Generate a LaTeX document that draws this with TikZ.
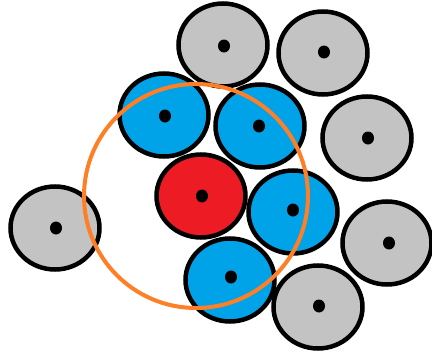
\documentclass[tikz,border=0pt]{standalone}
\usepackage{xcolor}
\usetikzlibrary{shapes.geometric}
\definecolor{ballgray}{HTML}{C3C3C3}
\definecolor{ballblue}{HTML}{00A2E8}
\definecolor{ballred}{HTML}{ED1C24}
\definecolor{ringorange}{HTML}{FF7F27}

\begin{document}
\begin{tikzpicture}[
  x=1pt, y=-1pt,
  ball/.style = {ellipse, draw=black, line width=4.5pt, inner sep=0pt,
                 minimum width=89pt, minimum height=83pt},
  farball/.style = {ball, fill=ballgray},
  nearball/.style = {ball, fill=ballblue},
  homeball/.style = {ball, fill=ballred},
  ring/.style = {draw=ringorange, line width=4pt},
]
\useasboundingbox (0,0) rectangle (432,356);

% ---------- outer particles (gray) ----------
\node[farball] (g1) at (223,45) {};
\node[farball] (g2) at (323,53) {};
\node[farball] (g3) at (367,138) {};
\node[farball] (g4) at (387,243) {};
\node[farball] (g5) at (318,307) {};
\node[farball] (g6) at (55,228) {};

% ---------- neighbours (blue) ----------
\node[nearball] (b1) at (164,115) {};
\node[nearball] (b2) at (260,126) {};
\node[nearball] (b3) at (293,212) {};
\node[nearball] (b4) at (230,280) {};

% ---------- central particle (red) ----------
\node[homeball] (c) at (201,196) {};

% ---------- centre dots ----------
\foreach \n/\dx/\dy in {g1/1/1, g2/1/-1, g3/1/0, g4/2/0, g5/1/-1, g6/1/0,
                        b1/1/1, b2/-1/0, b3/0/-2, b4/1/-3, c/1/0}
  \fill ([xshift=\dx pt, yshift=-\dy pt]\n.center) ellipse (6pt and 6.5pt);

% ---------- cut-off radius ----------
\draw[ring] (c.center) ++(-5,0) circle (112);

\end{tikzpicture}
\end{document}
